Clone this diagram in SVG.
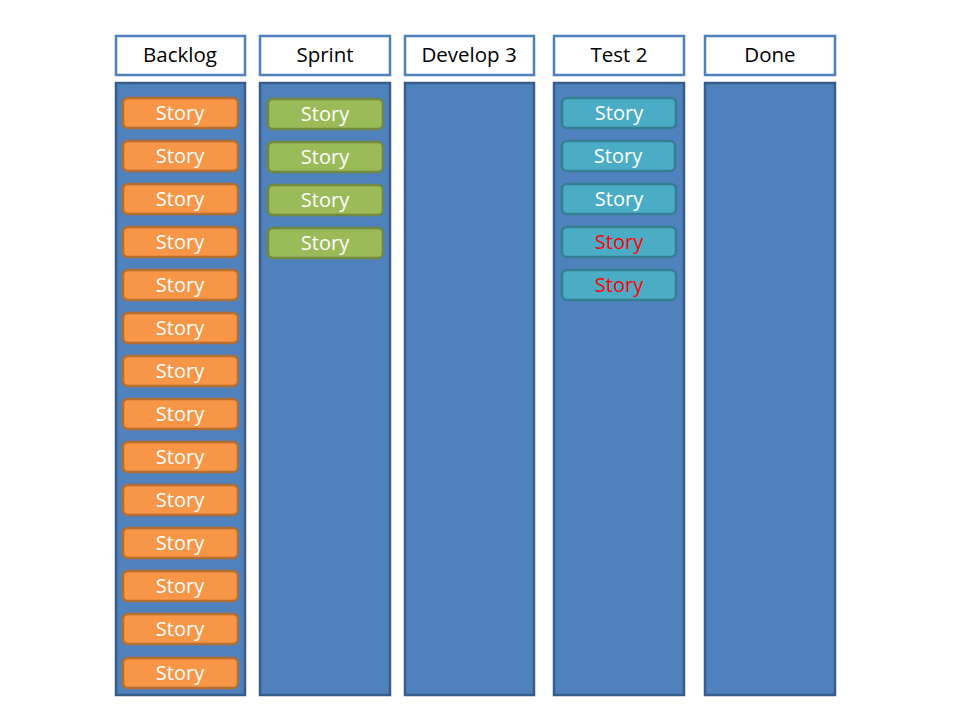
<svg xmlns="http://www.w3.org/2000/svg" width="960" height="720" viewBox="0 0 960 720">
<style>
.hdr{fill:#fff;stroke:#4f81bd;stroke-width:2.5}
.col{fill:#4f81bd;stroke:#385d8a;stroke-width:2.5}
.ht{font-family:"Open Sans","Liberation Sans",sans-serif;font-size:20.5px;fill:#000;text-anchor:middle}
.st{font-family:"Open Sans","Liberation Sans",sans-serif;font-size:20px;fill:#fff;text-anchor:middle}
.red{fill:#ff0000}
.o{fill:#f79646;stroke:#b66d31;stroke-width:2.5}
.g{fill:#9bbb59;stroke:#71893f;stroke-width:2.5}
.t{fill:#4bacc6;stroke:#357d91;stroke-width:2.5}
</style>
<rect width="960" height="720" fill="#fff"/>
<g id="col-backlog">
<rect class="hdr" x="116" y="36" width="129" height="39"/>
<text class="ht" x="180" y="62">Backlog</text>
<rect class="col" x="116" y="83" width="129" height="612"/>
</g>
<g id="col-sprint">
<rect class="hdr" x="260" y="36" width="130" height="39"/>
<text class="ht" x="325" y="62">Sprint</text>
<rect class="col" x="260" y="83" width="130" height="612"/>
</g>
<g id="col-develop">
<rect class="hdr" x="405" y="36" width="129" height="39"/>
<text class="ht" x="469" y="62">Develop 3</text>
<rect class="col" x="405" y="83" width="129" height="612"/>
</g>
<g id="col-test">
<rect class="hdr" x="554" y="36" width="130" height="39"/>
<text class="ht" x="619" y="62">Test 2</text>
<rect class="col" x="554" y="83" width="130" height="612"/>
</g>
<g id="col-done">
<rect class="hdr" x="705" y="36" width="130" height="39"/>
<text class="ht" x="770" y="62">Done</text>
<rect class="col" x="705" y="83" width="130" height="612"/>
</g>
<g id="backlog-cards">
<g id="b1"><rect class="o" x="123" y="98" width="115" height="30" rx="5"/><text class="st" x="180" y="120">Story</text></g>
<g id="b2"><rect class="o" x="123" y="141" width="115" height="30" rx="5"/><text class="st" x="180" y="163">Story</text></g>
<g id="b3"><rect class="o" x="123" y="184" width="115" height="30" rx="5"/><text class="st" x="180" y="206">Story</text></g>
<g id="b4"><rect class="o" x="123" y="227" width="115" height="30" rx="5"/><text class="st" x="180" y="249">Story</text></g>
<g id="b5"><rect class="o" x="123" y="270" width="115" height="30" rx="5"/><text class="st" x="180" y="292">Story</text></g>
<g id="b6"><rect class="o" x="123" y="313" width="115" height="30" rx="5"/><text class="st" x="180" y="335">Story</text></g>
<g id="b7"><rect class="o" x="123" y="356" width="115" height="30" rx="5"/><text class="st" x="180" y="378">Story</text></g>
<g id="b8"><rect class="o" x="123" y="399" width="115" height="30" rx="5"/><text class="st" x="180" y="421">Story</text></g>
<g id="b9"><rect class="o" x="123" y="442" width="115" height="30" rx="5"/><text class="st" x="180" y="464">Story</text></g>
<g id="b10"><rect class="o" x="123" y="485" width="115" height="30" rx="5"/><text class="st" x="180" y="507">Story</text></g>
<g id="b11"><rect class="o" x="123" y="528" width="115" height="30" rx="5"/><text class="st" x="180" y="550">Story</text></g>
<g id="b12"><rect class="o" x="123" y="571" width="115" height="30" rx="5"/><text class="st" x="180" y="593">Story</text></g>
<g id="b13"><rect class="o" x="123" y="614" width="115" height="30" rx="5"/><text class="st" x="180" y="636">Story</text></g>
<g id="b14"><rect class="o" x="123" y="658" width="115" height="30" rx="5"/><text class="st" x="180" y="680">Story</text></g>
</g>
<g id="sprint-cards">
<g id="s1"><rect class="g" x="268" y="99" width="115" height="30" rx="5"/><text class="st" x="325" y="121">Story</text></g>
<g id="s2"><rect class="g" x="268" y="142" width="115" height="30" rx="5"/><text class="st" x="325" y="164">Story</text></g>
<g id="s3"><rect class="g" x="268" y="185" width="115" height="30" rx="5"/><text class="st" x="325" y="207">Story</text></g>
<g id="s4"><rect class="g" x="268" y="228" width="115" height="30" rx="5"/><text class="st" x="325" y="250">Story</text></g>
</g>
<g id="test-cards">
<g id="t1"><rect class="t" x="562" y="98" width="114" height="30" rx="5"/><text class="st" x="619" y="120">Story</text></g>
<g id="t2"><rect class="t" x="562" y="141" width="113" height="30" rx="5"/><text class="st" x="618" y="163">Story</text></g>
<g id="t3"><rect class="t" x="562" y="184" width="114" height="30" rx="5"/><text class="st" x="619" y="206">Story</text></g>
<g id="t4"><rect class="t" x="562" y="227" width="114" height="30" rx="5"/><text class="st red" x="619" y="249">Story</text></g>
<g id="t5"><rect class="t" x="562" y="270" width="114" height="30" rx="5"/><text class="st red" x="619" y="292">Story</text></g>
</g>
</svg>
